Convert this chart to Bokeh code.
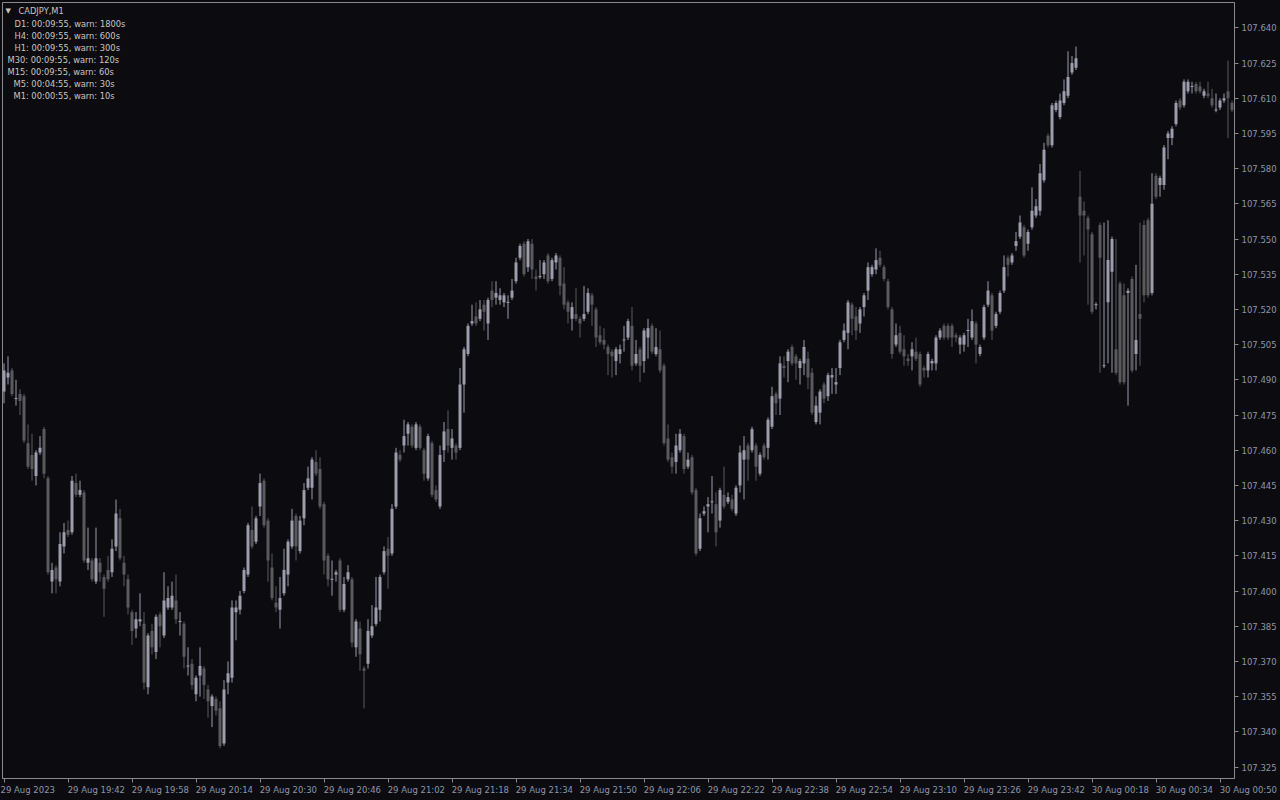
from bokeh.plotting import figure
from bokeh.models import ColumnDataSource, Range1d, FixedTicker, PrintfTickFormatter, Label, AllLabels
from bokeh.embed import file_html
from bokeh.resources import INLINE

# ---------------- data (CADJPY, M1) ----------------
opens = [
 107.485,107.491,107.494,107.482,107.484,107.483,107.463,107.458,107.449,107.459,
 107.469,107.448,107.404,107.410,107.404,107.419,107.426,107.425,107.446,107.441,
 107.442,107.412,107.413,107.404,107.412,107.406,107.409,107.408,107.419,107.431,
 107.412,107.405,107.391,107.384,107.387,107.386,107.359,107.383,107.374,107.390,
 107.381,107.393,107.393,107.396,107.387,107.386,107.368,107.369,107.356,107.364,
 107.367,107.358,107.351,107.354,107.350,107.335,107.361,107.363,107.391,107.392,
 107.400,107.407,107.426,107.421,107.436,107.447,107.430,107.410,107.395,107.392,
 107.399,107.407,107.419,107.432,107.417,107.431,107.444,107.444,107.455,107.452,
 107.437,107.415,107.405,107.407,107.413,107.392,107.405,107.405,107.376,107.384,
 107.367,107.369,107.381,107.386,107.392,107.408,107.418,107.416,107.436,107.458,
 107.462,107.467,107.470,107.461,107.470,107.460,107.448,107.463,107.443,107.436,
 107.460,107.469,107.461,107.462,107.461,107.488,107.501,107.514,107.517,107.516,
 107.522,107.514,107.528,107.525,107.524,107.523,107.523,107.525,107.532,107.542,
 107.548,107.538,107.548,107.534,107.534,107.535,107.543,107.533,107.540,107.542,
 107.531,107.523,107.516,107.518,107.516,107.516,107.519,107.526,107.520,107.509,
 107.507,107.504,107.502,107.498,107.501,107.507,107.508,107.513,107.497,107.503,
 107.498,107.508,107.513,107.501,107.503,107.496,107.465,107.457,107.455,107.460,
 107.466,107.453,107.457,107.443,107.418,107.433,107.436,107.438,107.437,107.430,
 107.441,107.438,107.439,107.433,107.445,107.456,107.462,107.460,107.462,107.450,
 107.462,107.461,107.470,107.484,107.482,107.496,107.498,107.504,107.500,107.495,
 107.497,107.499,107.493,107.472,107.476,107.488,107.483,107.491,107.488,107.495,
 107.507,107.510,107.522,107.517,107.514,107.521,107.528,107.535,107.537,107.542,
 107.538,107.532,107.520,107.505,107.510,107.503,107.499,107.500,107.502,107.501,
 107.495,107.494,107.497,107.497,107.508,107.513,107.513,107.513,107.509,107.505,
 107.505,107.511,107.508,107.514,107.501,107.508,107.522,107.526,107.513,107.519,
 107.528,107.542,107.540,107.547,107.551,107.555,107.548,107.555,107.560,107.562,
 107.575,107.594,107.590,107.605,107.602,107.608,107.611,107.621,107.623,107.568,
 107.562,107.559,107.552,107.522,107.556,107.496,107.523,107.536,107.503,107.531,
 107.526,107.527,107.533,107.501,107.518,107.556,107.558,107.527,107.577,107.573,
 107.573,107.593,107.593,107.599,107.609,107.607,107.613,107.615,107.616,107.615,
 107.611,107.612,107.610,107.605,107.606,107.609,107.613,107.608]

highs = [
 107.497,107.500,107.495,107.490,107.486,107.484,107.471,107.467,107.460,107.466,
 107.470,107.449,107.412,107.411,107.425,107.429,107.430,107.449,107.450,107.447,
 107.443,107.427,107.414,107.427,107.414,107.407,107.415,107.422,107.439,107.435,
 107.415,107.407,107.392,107.391,107.399,107.391,107.382,107.386,107.390,107.391,
 107.408,107.402,107.404,107.407,107.391,107.387,107.376,107.371,107.364,107.376,
 107.368,107.360,107.356,107.355,107.353,107.362,107.370,107.396,107.396,107.400,
 107.410,107.429,107.436,107.432,107.450,107.448,107.431,107.416,107.402,107.406,
 107.418,107.422,107.435,107.433,107.432,107.446,107.453,107.457,107.460,107.457,
 107.438,107.416,107.413,107.409,107.414,107.406,107.411,107.406,107.388,107.387,
 107.368,107.388,107.394,107.406,107.407,107.419,107.423,107.437,107.461,107.460,
 107.473,107.472,107.471,107.472,107.471,107.461,107.467,107.464,107.445,107.462,
 107.472,107.477,107.469,107.463,107.495,107.504,107.514,107.522,107.523,107.524,
 107.524,107.525,107.532,107.532,107.529,107.527,107.526,107.533,107.542,107.548,
 107.549,107.550,107.550,107.537,107.541,107.541,107.544,107.542,107.544,107.543,
 107.538,107.524,107.523,107.529,107.517,107.530,107.529,107.527,107.521,107.513,
 107.512,107.505,107.503,107.504,107.505,107.513,107.516,107.521,107.507,107.504,
 107.512,107.516,107.514,107.512,107.511,107.497,107.471,107.459,107.467,107.469,
 107.467,107.459,107.458,107.444,107.433,107.436,107.440,107.449,107.442,107.444,
 107.453,107.442,107.441,107.445,107.462,107.466,107.463,107.470,107.463,107.459,
 107.463,107.474,107.487,107.485,107.500,107.500,107.503,107.505,107.501,107.499,
 107.507,107.502,107.495,107.483,107.486,107.489,107.493,107.495,107.495,107.507,
 107.514,107.524,107.523,107.521,107.521,107.527,107.540,107.539,107.546,107.545,
 107.539,107.533,107.521,107.514,107.513,107.509,107.501,107.506,107.508,107.502,
 107.496,107.502,107.499,107.509,107.512,107.514,107.514,107.514,107.510,107.509,
 107.510,107.516,107.520,107.515,107.505,107.522,107.532,107.527,107.519,107.528,
 107.543,107.543,107.544,107.553,107.560,107.556,107.554,107.572,107.567,107.582,
 107.591,107.595,107.608,107.609,107.612,107.618,107.630,107.628,107.632,107.579,
 107.566,107.560,107.553,107.523,107.557,107.557,107.558,107.551,107.550,107.532,
 107.531,107.529,107.534,107.539,107.557,107.558,107.559,107.578,107.578,107.577,
 107.590,107.596,107.598,107.609,107.610,107.618,107.618,107.617,107.617,107.617,
 107.614,107.617,107.614,107.612,107.610,107.612,107.626,107.609]

lows = [
 107.480,107.488,107.483,107.479,107.475,107.463,107.452,107.447,107.445,107.458,
 107.448,107.407,107.399,107.399,107.402,107.416,107.423,107.424,107.440,107.440,
 107.412,107.409,107.404,107.403,107.404,107.389,107.404,107.406,107.417,107.413,
 107.402,107.390,107.377,107.380,107.385,107.358,107.356,107.373,107.371,107.376,
 107.380,107.392,107.392,107.386,107.381,107.367,107.364,107.358,107.353,107.355,
 107.354,107.346,107.342,107.347,107.333,107.334,107.356,107.361,107.379,107.390,
 107.399,107.406,107.418,107.420,107.432,107.427,107.404,107.396,107.391,107.384,
 107.398,107.402,107.418,107.413,107.416,107.428,107.443,107.439,107.449,107.435,
 107.407,107.402,107.398,107.404,107.391,107.391,107.404,107.376,107.372,107.366,
 107.350,107.367,107.380,107.385,107.387,107.407,107.401,107.415,107.435,107.455,
 107.459,107.462,107.461,107.460,107.460,107.447,107.447,107.440,107.438,107.435,
 107.455,107.459,107.456,107.456,107.460,107.476,107.500,107.513,107.513,107.515,
 107.511,107.507,107.521,107.522,107.522,107.521,107.516,107.524,107.531,107.541,
 107.534,107.536,107.533,107.528,107.533,107.533,107.531,107.532,107.537,107.526,
 107.520,107.514,107.511,107.515,107.508,107.515,107.518,107.513,107.504,107.505,
 107.503,107.492,107.491,107.492,107.497,107.502,107.507,107.494,107.496,107.489,
 107.493,107.499,107.501,107.500,107.493,107.462,107.455,107.450,107.450,107.459,
 107.450,107.452,107.441,107.415,107.417,107.432,107.425,107.433,107.419,107.427,
 107.435,107.437,107.434,107.432,107.442,107.439,107.447,107.459,107.447,107.449,
 107.456,107.456,107.469,107.475,107.475,107.491,107.489,107.496,107.490,107.488,
 107.492,107.486,107.475,107.471,107.471,107.480,107.481,107.484,107.484,107.492,
 107.506,107.503,107.509,107.507,107.510,107.517,107.524,107.534,107.535,107.538,
 107.532,107.520,107.499,107.504,107.501,107.496,107.496,107.494,107.498,107.487,
 107.491,107.491,107.494,107.494,107.507,107.507,107.507,107.504,107.506,107.501,
 107.502,107.504,107.507,107.497,107.500,107.507,107.521,107.507,107.512,107.518,
 107.527,107.534,107.539,107.545,107.550,107.542,107.545,107.554,107.559,107.560,
 107.574,107.589,107.589,107.604,107.601,107.607,107.610,107.620,107.622,107.540,
 107.543,107.522,107.518,107.520,107.493,107.495,107.497,107.493,107.492,107.488,
 107.488,107.479,107.493,107.494,107.496,107.523,107.525,107.526,107.567,107.568,
 107.571,107.584,107.590,107.598,107.605,107.606,107.612,107.612,107.612,107.612,
 107.610,107.610,107.606,107.604,107.605,107.608,107.593,107.604]

closes = [
 107.494,107.493,107.484,107.482,107.481,107.464,107.453,107.452,107.459,107.461,
 107.450,107.408,107.409,107.405,107.420,107.425,107.424,107.447,107.441,107.443,
 107.413,107.414,107.405,107.414,107.408,107.401,107.405,107.418,107.433,107.414,
 107.407,107.393,107.383,107.388,107.388,107.361,107.381,107.376,107.389,107.385,
 107.396,107.397,107.398,107.388,107.387,107.372,107.368,107.360,107.363,107.368,
 107.360,107.353,107.355,107.349,107.334,107.358,107.365,107.393,107.393,107.398,
 107.409,107.428,107.419,107.431,107.446,107.428,107.413,107.397,107.393,107.397,
 107.409,107.421,107.430,107.419,107.430,107.443,107.448,107.456,107.450,107.436,
 107.413,107.405,107.405,107.408,107.392,107.403,107.408,107.378,107.387,107.373,
 107.366,107.383,107.385,107.393,107.406,107.417,107.415,107.435,107.459,107.456,
 107.466,107.471,107.462,107.471,107.461,107.450,107.466,107.441,107.439,107.458,
 107.468,107.462,107.465,107.459,107.488,107.503,107.513,107.515,107.514,107.520,
 107.519,107.524,107.524,107.527,107.526,107.526,107.523,107.528,107.540,107.547,
 107.535,107.549,107.537,107.533,107.534,107.540,107.532,107.541,107.543,107.530,
 107.522,107.519,107.521,107.516,107.514,107.518,107.527,107.522,107.508,107.506,
 107.505,107.501,107.500,107.503,107.503,107.507,107.515,107.496,107.501,107.496,
 107.511,107.512,107.502,107.504,107.494,107.463,107.456,107.453,107.462,107.467,
 107.452,107.456,107.442,107.416,107.431,107.434,107.437,107.438,107.425,107.443,
 107.436,107.440,107.435,107.444,107.459,107.460,107.456,107.469,107.453,107.458,
 107.457,107.473,107.483,107.480,107.497,107.495,107.502,107.497,107.497,107.498,
 107.504,107.491,107.476,107.479,107.485,107.482,107.492,107.492,107.489,107.506,
 107.511,107.523,107.516,107.511,107.520,107.526,107.538,107.538,107.541,107.539,
 107.533,107.521,107.501,107.509,107.502,107.500,107.498,107.503,107.499,107.488,
 107.494,107.501,107.498,107.508,107.511,107.508,107.508,107.508,107.508,107.508,
 107.509,107.511,107.515,107.505,107.504,107.521,107.528,107.511,107.518,107.527,
 107.538,107.539,107.543,107.549,107.557,107.543,107.553,107.562,107.564,107.578,
 107.588,107.590,107.607,107.608,107.609,107.613,107.619,107.625,107.627,107.560,
 107.560,107.554,107.519,107.522,107.542,107.496,107.541,107.550,107.493,107.489,
 107.489,107.528,107.494,107.507,107.516,107.526,107.526,107.565,107.568,107.576,
 107.589,107.595,107.597,107.608,107.606,107.617,107.617,107.615,107.613,107.613,
 107.613,107.611,107.607,107.605,107.609,107.610,107.610,107.605]

x_tick_positions = [0, 16, 32, 48, 64, 80, 96, 112, 128, 144,
                    160, 176, 192, 208, 224, 240, 256, 272, 288, 304]
x_tick_labels = ["29 Aug 2023", "29 Aug 19:42", "29 Aug 19:58", "29 Aug 20:14",
                 "29 Aug 20:30", "29 Aug 20:46", "29 Aug 21:02", "29 Aug 21:18",
                 "29 Aug 21:34", "29 Aug 21:50", "29 Aug 22:06", "29 Aug 22:22",
                 "29 Aug 22:38", "29 Aug 22:54", "29 Aug 23:10", "29 Aug 23:26",
                 "29 Aug 23:42", "30 Aug 00:18", "30 Aug 00:34", "30 Aug 00:50"]
y_ticks = [107.325, 107.340, 107.355, 107.370, 107.385, 107.400, 107.415, 107.430,
           107.445, 107.460, 107.475, 107.490, 107.505, 107.520, 107.535, 107.550,
           107.565, 107.580, 107.595, 107.610, 107.625, 107.640]

title_text = "CADJPY,M1"
timer_lines = ["D1: 00:09:55, warn: 1800s",
               "H4: 00:09:55, warn: 600s",
               "H1: 00:09:55, warn: 300s",
               "M30: 00:09:55, warn: 120s",
               "M15: 00:09:55, warn: 60s",
               "M5: 00:04:55, warn: 30s",
               "M1: 00:00:55, warn: 10s"]

# ---------------- style ----------------
BG = "#0b0b10"
BULL = "#9d9dad"
BEAR = "#5a5a5e"
FRAME = "#8a8a8a"
AXIS_TEXT = "#8d97a8"
HEAD_TEXT = "#c9c6c0"
FONT = "DejaVu Sans"
TICK_FONT_PX = 8.5

W, H = 1280, 800
FL, FR, FT, FB = 2, 1234, 2, 778          # frame edges in pixels
X0 = -0.375
X1 = X0 + (FR - FL) / 4.0                  # 4 px per bar
Y_TOP = 107.650781
Y_BOT = 107.320104

p = figure(width=W, height=H, x_range=Range1d(X0, X1), y_range=Range1d(Y_BOT, Y_TOP),
           output_backend="svg", toolbar_location=None, y_axis_location="right",
           min_border_left=FL, min_border_right=W - FR, min_border_top=FT,
           min_border_bottom=H - FB)
p.background_fill_color = BG
p.border_fill_color = BG
p.outline_line_color = FRAME
p.outline_line_width = 1
p.grid.visible = False


def px_x(px):
    return X0 + (px - FL) / 4.0


def px_y(py):
    return Y_TOP - (py - FT) * (Y_TOP - Y_BOT) / (FB - FT)


# MT4 draws each time label starting at its tick; Bokeh centres axis labels,
# so each label is led by no-break spaces as wide as the label itself.
# (The first one sits at the left edge, where Bokeh keeps it inside the plot.)
EM = {"0": .636, "1": .636, "2": .636, "3": .636, "4": .636, "5": .636, "6": .636,
      "7": .636, "8": .636, "9": .636, " ": .318, ":": .337, "A": .684, "u": .634, "g": .635}


def left_start(pos, label):
    width = sum(EM.get(ch, .6) for ch in label)
    if (pos - X0) * 4.0 < width * TICK_FONT_PX:
        return label
    return "\u00a0" * int(round(width / 0.318)) + label


xa = p.xaxis[0]
xa.ticker = FixedTicker(ticks=x_tick_positions)
xa.major_label_overrides = {pos: left_start(pos, lab) for pos, lab in zip(x_tick_positions, x_tick_labels)}
xa.major_label_policy = AllLabels()
xa.major_label_text_font = FONT
xa.major_label_text_font_size = "%gpx" % TICK_FONT_PX
xa.major_label_text_color = AXIS_TEXT
xa.major_label_standoff = 2
xa.major_tick_out = 4
xa.major_tick_in = 0
xa.minor_tick_out = 0
xa.minor_tick_in = 0
xa.major_tick_line_color = FRAME
xa.axis_line_color = FRAME

# y axis (right)
ya = p.yaxis[0]
ya.ticker = FixedTicker(ticks=y_ticks)
ya.formatter = PrintfTickFormatter(format="%.3f")
ya.major_label_text_font = FONT
ya.major_label_text_font_size = "%gpx" % TICK_FONT_PX
ya.major_label_text_color = AXIS_TEXT
ya.major_label_standoff = 3
ya.major_tick_out = 4
ya.major_tick_in = 0
ya.minor_tick_out = 0
ya.minor_tick_in = 0
ya.major_tick_line_color = FRAME
ya.axis_line_color = FRAME

# ---------------- candles ----------------
n = len(opens)
xs = list(range(n))
colors = [BULL if c >= o else BEAR for o, c in zip(opens, closes)]

wick_src = ColumnDataSource(dict(x=xs, h=highs, l=lows, color=colors))
p.segment(x0="x", y0="h", x1="x", y1="l", line_color="color", line_width=1, source=wick_src)

bx, btop, bbot, bcol = [], [], [], []
dx0, dx1, dy, dcol = [], [], [], []
for i, (o, c, col) in enumerate(zip(opens, closes, colors)):
    if o == c:
        dx0.append(i - 0.375); dx1.append(i + 0.375); dy.append(o); dcol.append(col)
    else:
        bx.append(i); btop.append(max(o, c)); bbot.append(min(o, c)); bcol.append(col)

body_src = ColumnDataSource(dict(x=bx, top=btop, bottom=bbot, color=bcol))
p.vbar(x="x", width=0.75, top="top", bottom="bottom", fill_color="color",
       line_color=None, source=body_src)

doji_src = ColumnDataSource(dict(x0=dx0, x1=dx1, y=dy, color=dcol))
p.segment(x0="x0", y0="y", x1="x1", y1="y", line_color="color", line_width=1, source=doji_src)

# ---------------- header text ----------------
p.add_layout(Label(x=px_x(5), y=px_y(10), text="\u25bc", text_font=FONT,
                   text_font_size="7px", text_color=HEAD_TEXT, text_baseline="middle"))
p.add_layout(Label(x=px_x(18), y=px_y(10), text=title_text, text_font=FONT,
                   text_font_size="8.3px", text_color=HEAD_TEXT, text_baseline="middle"))
line_x = [14, 14, 14, 7, 7, 13, 13]
for k, (t, lx) in enumerate(zip(timer_lines, line_x)):
    p.add_layout(Label(x=px_x(lx), y=px_y(23 + 12 * k), text=t, text_font=FONT,
                       text_font_size="8.3px", text_color=HEAD_TEXT,
                       text_baseline="middle"))

html = file_html(p, INLINE)
html = html.replace("<head>", "<head><style>html,body{margin:0;padding:0;background:%s;overflow:hidden;}</style>" % BG, 1)
open("out.html", "w").write(html)
